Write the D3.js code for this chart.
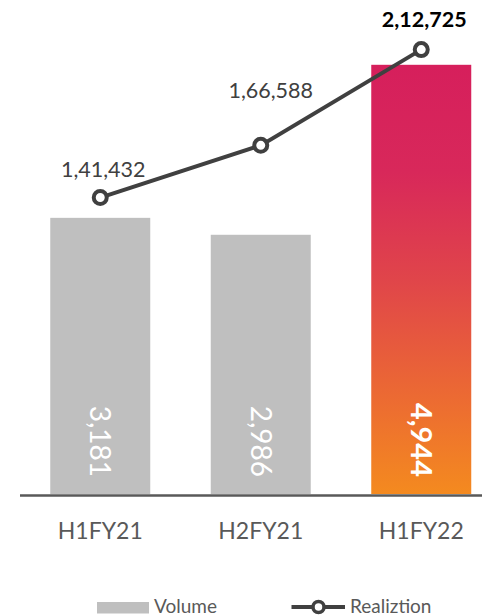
<!DOCTYPE html>
<html>
<head>
<meta charset="utf-8">
<script src="https://cdn.jsdelivr.net/npm/d3@7"></script>
<style>
  html, body { margin: 0; padding: 0; background: #fff; }
  svg { display: block; }
  text { font-family: Lato, "Open Sans", sans-serif; }
</style>
</head>
<body>
<svg id="chart" width="482" height="616"></svg>
<script>
const categories = ["H1FY21", "H2FY21", "H1FY22"];
const volume = [3181, 2986, 4944];
const realization = [141432, 166588, 212725];
const volumeLabels = ["3,181", "2,986", "4,944"];
const realizationLabels = ["1,41,432", "1,66,588", "2,12,725"];
const legendLabels = ["Volume", "Realiztion"];

const svg = d3.select("#chart");
const baseY = 494;

const x = d3.scaleBand().domain(categories).range([20, 501.5])
  .paddingInner(0.377).paddingOuter(0.1885);
const yBar = d3.scaleLinear().domain([0, 5460]).range([baseY, 20]);
const yLine = d3.scaleLinear().domain([0, 227000]).range([491, 20]);

// gradient
const defs = svg.append("defs");
const grad = defs.append("linearGradient").attr("id", "hl")
  .attr("x1", 0).attr("y1", 0).attr("x2", 0).attr("y2", 1);
[[0, "#D61F5C"], [0.25, "#D8285A"], [0.5, "#E0454A"], [0.78, "#EC6B32"], [1, "#F48A1F"]]
  .forEach(([o, c]) => grad.append("stop").attr("offset", o).attr("stop-color", c));

// bars
svg.selectAll("rect.bar").data(volume).enter().append("rect")
  .attr("class", "bar")
  .attr("x", (d, i) => x(categories[i]))
  .attr("width", x.bandwidth())
  .attr("y", d => yBar(d))
  .attr("height", d => baseY - yBar(d))
  .attr("fill", (d, i) => i === 2 ? "url(#hl)" : "#BFBFBF");

// bar labels (rotated)
svg.selectAll("text.vl").data(volume).enter().append("text")
  .attr("class", "vl")
  .attr("transform", (d, i) => `translate(${x(categories[i]) + x.bandwidth() / 2},${baseY - 17}) rotate(90)`)
  .attr("text-anchor", "end")
  .attr("dy", "0.35em")
  .attr("font-size", (d, i) => i === 2 ? 29 : 28)
  .attr("font-weight", (d, i) => i === 2 ? "bold" : "normal")
  .attr("fill", "#fff")
  .text((d, i) => volumeLabels[i]);

// axis baseline
const xAxis = d3.axisBottom(x).tickSize(0).tickPadding(27);
const ax = svg.append("g").attr("transform", `translate(0,${baseY + 1.5})`).call(xAxis);
ax.select(".domain").remove();
ax.append("line").attr("x1", 20).attr("x2", 482).attr("y1", 0).attr("y2", 0)
  .attr("stroke", "#595959").attr("stroke-width", 2.5);
ax.selectAll(".tick text").attr("font-size", 23).attr("fill", "#595959")
  .attr("font-family", "Lato, sans-serif");

// line
const cx = (i) => x(categories[i]) + x.bandwidth() / 2;
const line = d3.line().x((d, i) => cx(i)).y(d => yLine(d));
svg.append("path").datum(realization).attr("d", line)
  .attr("fill", "none").attr("stroke", "#404040").attr("stroke-width", 4);
svg.selectAll("circle.pt").data(realization).enter().append("circle")
  .attr("cx", (d, i) => cx(i)).attr("cy", d => yLine(d)).attr("r", 6.5)
  .attr("fill", "#fff").attr("stroke", "#404040").attr("stroke-width", 4);

// line labels
const labelShift = [[3, -21], [10, -47], [3, -23]];
svg.selectAll("text.rl").data(realization).enter().append("text")
  .attr("class", "rl")
  .attr("x", (d, i) => cx(i) + labelShift[i][0])
  .attr("y", (d, i) => yLine(d) + labelShift[i][1])
  .attr("text-anchor", "middle")
  .attr("font-size", 21.5)
  .attr("font-weight", (d, i) => i === 2 ? "bold" : "normal")
  .attr("fill", (d, i) => i === 2 ? "#000" : "#404040")
  .text((d, i) => realizationLabels[i]);

// legend
const lg = svg.append("g");
lg.append("rect").attr("x", 97).attr("y", 602).attr("width", 52).attr("height", 11.5).attr("fill", "#BFBFBF");
lg.append("text").attr("x", 154).attr("y", 612.5).attr("font-size", 19).attr("fill", "#595959").text(legendLabels[0]);
lg.append("line").attr("x1", 291.5).attr("x2", 345).attr("y1", 607).attr("y2", 607)
  .attr("stroke", "#404040").attr("stroke-width", 4);
lg.append("circle").attr("cx", 318.5).attr("cy", 607).attr("r", 5.5)
  .attr("fill", "#fff").attr("stroke", "#404040").attr("stroke-width", 3.5);
lg.append("text").attr("x", 350).attr("y", 612.5).attr("font-size", 19).attr("fill", "#595959").text(legendLabels[1]);
</script>
</body>
</html>
